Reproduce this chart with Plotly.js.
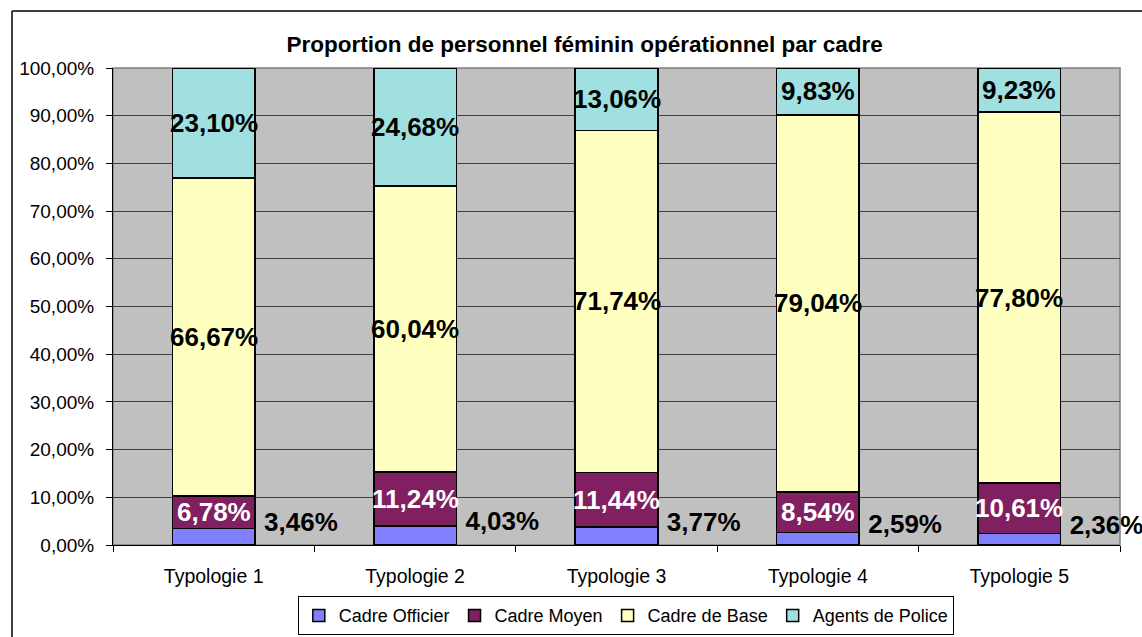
<!DOCTYPE html>
<html>
<head>
<meta charset="utf-8">
<script src="https://cdn.plot.ly/plotly-3.0.1.min.js"></script>
<style>html,body{margin:0;padding:0;background:#fff;overflow:hidden;}#chart{width:1142px;height:637px;}</style>
</head>
<body>
<div id="chart"></div>
<script>
const categories = ['Typologie 1', 'Typologie 2', 'Typologie 3', 'Typologie 4', 'Typologie 5'];
const seriesNames = ['Cadre Officier', 'Cadre Moyen', 'Cadre de Base', 'Agents de Police'];
const cadreOfficier = [3.46, 4.03, 3.77, 2.59, 2.36];
const cadreMoyen = [6.78, 11.24, 11.44, 8.54, 10.61];
const cadreBase = [66.67, 60.04, 71.74, 79.04, 77.80];
const agentsPolice = [23.10, 24.68, 13.06, 9.83, 9.23];
const colors = ['#8080FF', '#802060', '#FFFFC0', '#A0E0E0'];
const textColors = ['#000000', '#FFFFFF', '#000000', '#000000'];

const FONT = 'Arial, "Liberation Sans", sans-serif';
const fmt = v => v.toFixed(2).replace('.', ',') + '%';

const allSeries = [cadreOfficier, cadreMoyen, cadreBase, agentsPolice];
const traces = allSeries.map((vals, i) => ({
  type: 'bar',
  name: seriesNames[i],
  x: categories,
  y: vals.map(v => v / 100),
  marker: {color: colors[i], line: {color: '#000000', width: 1.5}},
  hoverinfo: 'name+y'
}));

// Officier labels sit to the right of each bar: text trace on an overlaid numeric axis
const LABEL_OFFSET = 0.25; // fraction of a category slot right of the bar centre
traces.push({
  type: 'scatter', mode: 'text', xaxis: 'x2', yaxis: 'y',
  x: categories.map((c, j) => j + LABEL_OFFSET),
  y: cadreOfficier.map(v => v / 200 + 0.025),
  text: cadreOfficier.map(v => '<b>' + fmt(v) + '</b>'),
  textposition: 'middle right',
  textfont: {family: FONT, size: 26, color: '#000000'},
  cliponaxis: false, showlegend: false, hoverinfo: 'skip'
});

const annotations = [];
categories.forEach((c, j) => {
  let base = 0;
  allSeries.forEach((vals, i) => {
    const v = vals[j];
    if (i > 0) {
      annotations.push({
        x: c, y: (base + v / 2) / 100, xref: 'x', yref: 'y',
        text: '<b>' + fmt(v) + '</b>',
        showarrow: false, xanchor: 'center', yanchor: 'middle',
        font: {family: FONT, size: 26, color: textColors[i]}
      });
    }
    base += v;
  });
});

const layout = {
  width: 1142, height: 637,
  margin: {l: 113, r: 22, t: 68, b: 92},
  paper_bgcolor: '#FFFFFF',
  plot_bgcolor: '#C0C0C0',
  separators: ', ',
  barmode: 'stack',
  bargap: 0.59,
  showlegend: true,
  title: {
    text: '<b>Proportion de personnel féminin opérationnel par cadre</b>',
    font: {family: FONT, size: 22.5, color: '#000000'},
    x: 0.512, xref: 'container', xanchor: 'center',
    y: 0.931, yref: 'container', yanchor: 'middle',
    automargin: false
  },
  xaxis: {
    type: 'category', automargin: false,
    showline: true, linecolor: '#000000', linewidth: 1,
    ticks: 'outside', tickson: 'boundaries', ticklen: 6, tickcolor: '#000000',
    tickfont: {family: FONT, size: 19.5, color: '#000000'},
    ticklabelstandoff: 14,
    showgrid: false, zeroline: false, fixedrange: true
  },
  xaxis2: {
    overlaying: 'x', range: [-0.5, categories.length - 0.5],
    visible: false, fixedrange: true, automargin: false
  },
  yaxis: {
    range: [0, 1], dtick: 0.1, tickformat: '.2%', automargin: false,
    showline: true, linecolor: '#000000', linewidth: 1,
    ticks: 'outside', ticklen: 6, tickcolor: '#000000',
    tickfont: {family: FONT, size: 19, color: '#000000'},
    ticklabelstandoff: 8,
    showgrid: true, gridcolor: '#404040', gridwidth: 1,
    zeroline: false, fixedrange: true
  },
  legend: {
    orientation: 'h', traceorder: 'normal',
    xref: 'container', yref: 'container',
    x: 0.548, xanchor: 'center', y: 0.064, yanchor: 'top',
    bgcolor: '#FFFFFF', bordercolor: '#000000', borderwidth: 1,
    font: {family: FONT, size: 18, color: '#000000'},
    itemclick: false, itemdoubleclick: false
  },
  annotations: annotations,
  shapes: [
    {type: 'rect', xref: 'paper', yref: 'paper', x0: 0, x1: 1, y0: 0, y1: 1,
     line: {color: '#808080', width: 1.5}, layer: 'below'},
    {type: 'line', xref: 'paper', yref: 'paper', x0: -0.1003, x1: 1.2, y0: 1.1195, y1: 1.1195,
     line: {color: '#000000', width: 1.5}},
    {type: 'line', xref: 'paper', yref: 'paper', x0: -0.1003, x1: -0.1003, y0: -0.3, y1: 1.1195,
     line: {color: '#000000', width: 1.5}}
  ]
};

Plotly.newPlot('chart', traces, layout, {displayModeBar: false});
</script>
</body>
</html>
